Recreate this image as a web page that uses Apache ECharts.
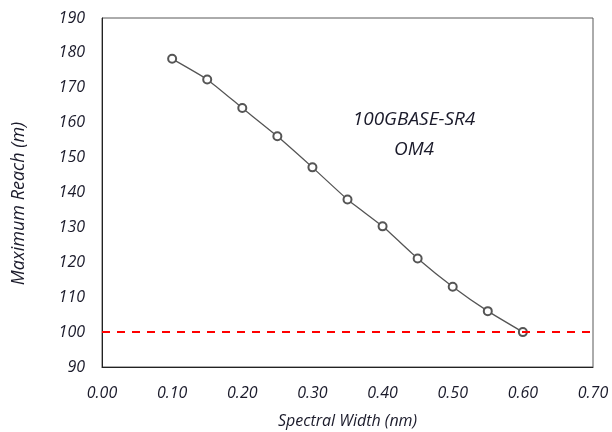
<!DOCTYPE html>
<html>
<head>
<meta charset="utf-8">
<script src="https://cdn.jsdelivr.net/npm/echarts@6/dist/echarts.min.js"></script>
<style>
  html, body { margin: 0; padding: 0; background: #fff; }
  #chart { width: 612px; height: 432px; }
</style>
</head>
<body>
<div id="chart"></div>
<script>
// spectral width (nm) vs maximum reach (m)
const widths = [0.10, 0.15, 0.20, 0.25, 0.30, 0.35, 0.40, 0.45, 0.50, 0.55, 0.60]
const reach = [178.3, 172.4, 164.2, 156.1, 147.2, 138.0, 130.3, 121.1, 113.0, 106.0, 100.0]
const limit = 100
const labelLines = ['100GBASE-SR4', 'OM4']

const font = '"Open Sans", Lato, sans-serif'
const textColor = '#1a1a2a'
const chart = echarts.init(document.getElementById('chart'))

const option = {
  animation: false,
  grid: {
    left: 102,
    right: 19,
    top: 18,
    bottom: 65,
    outerBoundsMode: 'none',
    containLabel: false,
    show: true,
    borderColor: '#595959',
    borderWidth: 1
  },
  xAxis: {
    type: 'value',
    min: 0,
    max: 0.7,
    interval: 0.1,
    name: 'Spectral Width (nm)',
    nameLocation: 'middle',
    nameGap: 46,
    nameTextStyle: { fontFamily: font, fontStyle: 'italic', fontSize: 16, color: textColor },
    axisLine: { lineStyle: { color: '#222', width: 1 } },
    axisTick: { show: false },
    splitLine: { show: false },
    axisLabel: {
      margin: 18,
      fontFamily: font, fontStyle: 'italic', fontSize: 16, color: textColor,
      formatter: v => v.toFixed(2)
    }
  },
  yAxis: {
    type: 'value',
    min: 90,
    max: 190,
    interval: 10,
    name: 'Maximum Reach (m)',
    nameLocation: 'middle',
    nameGap: 74,
    nameTextStyle: {
      fontFamily: font, fontStyle: 'italic', fontSize: 18, color: textColor,
      padding: [0, 22, 0, 0]
    },
    axisLine: { show: true, lineStyle: { color: '#222', width: 1 } },
    axisTick: { show: false },
    splitLine: { show: false },
    axisLabel: {
      margin: 17,
      fontFamily: font, fontStyle: 'italic', fontSize: 16, color: textColor
    }
  },
  series: [
    {
      type: 'line',
      data: widths.map((w, i) => [w, reach[i]]),
      smooth: 0.15,
      symbol: 'emptyCircle',
      symbolSize: 8,
      showAllSymbol: true,
      lineStyle: { color: '#555', width: 1.3 },
      itemStyle: { color: '#555', borderColor: '#555', borderWidth: 1 },
      markLine: {
        silent: true,
        symbol: 'none',
        label: { show: false },
        lineStyle: { color: '#ff0000', width: 2, type: [8, 7] },
        data: [{ yAxis: limit }]
      },
      z: 3
    }
  ],
  graphic: labelLines.map((t, i) => ({
    type: 'text',
    x: 414,
    y: 120 + i * 30,
    style: {
      text: t,
      fontFamily: font,
      fontStyle: 'italic',
      fontSize: 19,
      fill: textColor,
      align: 'center',
      verticalAlign: 'middle'
    }
  }))
}

chart.setOption(option)
</script>
</body>
</html>
